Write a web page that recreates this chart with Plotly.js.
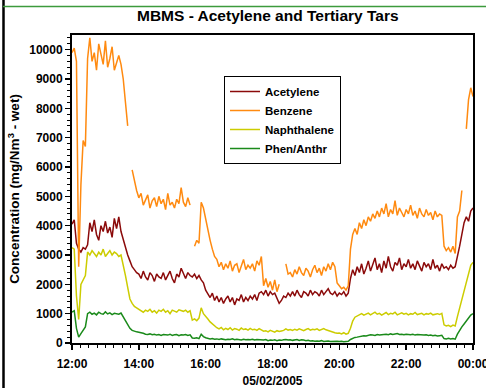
<!DOCTYPE html>
<html>
<head>
<meta charset="utf-8">
<script src="https://cdn.plot.ly/plotly-3.0.1.min.js"></script>
<style>
  html, body { margin: 0; padding: 0; background: #fff; }
  #chart { width: 486px; height: 388px; }
</style>
</head>
<body>
<div id="chart"></div>
<script>
// ---- Data ----
const startDate = '2005-05-02';
const startHour = 12;          // first sample at 12:00
const stepMinutes = 4;         // sampling step of the arrays below

const seriesNames = ['Acetylene', 'Benzene', 'Naphthalene', 'Phen/Anthr'];

const acetylene = [
4050, 4200, 3400, 3200, 3100, 3250, 3200, 3350, 4100, 3800,
4200, 3700, 3500, 4000, 3800, 4150, 3750, 3950, 3600, 4250,
3900, 4300, 3800, 3500, 3300, 3000, 2800, 2600, 2500, 2400,
2350, 2200, 2450, 2250, 2150, 2400, 2300, 2100, 2350, 2250,
2200, 2400, 2150, 2300, 2450, 2200, 2050, 2350, 2250, 2550,
2350, 2200, 2400, 2300, 2250, 2350, 2200, 2300, 2150, 2050,
1800, 1650, 1550, 1700, 1450, 1600, 1400, 1550, 1350, 1500,
1600, 1400, 1550, 1300, 1500, 1450, 1650, 1400, 1550, 1450,
1600, 1500, 1650, 1450, 1700, 1750, 1650, 1800, 1600, 1750,
1650, 1700, 1500, 1350, 1450, 1600, 1550, 1700, 1600, 1750,
1600, 1800, 1650, 1550, 1750, 1700, 1600, 1800, 1650, 1750,
1700, 1600, 1800, 1650, 1750, 1850, 1700, 1650, 1750, 1600,
1700, 1650, 1750, 1600, 1700, 2200, 2500, 2300, 2600, 2400,
2700, 2350, 2550, 2800, 2450, 2650, 2900, 2500, 2700, 2400,
2800, 2550, 2950, 2600, 2450, 2750, 2650, 2900, 2500, 2700,
2600, 2850, 2550, 2700, 2500, 2800, 2650, 2450, 2750, 2600,
2700, 2500, 2850, 2550, 2650, 2450, 2700, 2550, 2600, 2500,
2650, 2550, 2600, 2900, 3300, 3700, 4100, 4300, 4150, 4500, 4600
];

const benzene = [
9900, 10050, 9600, 2600, 5400, 6900, 6700, 9700, 10400, 9600,
9900, 9300, 10200, 9800, 9500, 10300, 9400, 9700, 10100, 9300,
9600, 9800, 9500, 9000, 8200, 7400, null, 5900, 5500, 5200,
4950, 5100, 4700, 4900, 5050, 4600, 4850, 4950, 4650, 5000,
4750, 4900, 4550, 5100, 4700, 4800, 4600, 4900, 4750, 5300,
4800, 4650, 4950, 4700, null, 3300, 3500, 3400, 4800, 4600,
4200, 3800, 3500, 3200, 2950, 2850, 2600, 2750, 2500, 2700,
2550, 2800, 2450, 2650, 2700, 2400, 2600, 2850, 2500, 2650,
2550, 2700, 2450, 2800, 2650, 2950, 1950, 2200, 1900, 2100,
1800, 2150, 1750, 2000, null, null, 2700, 2350, 2400, 2250,
2500, 2350, 2600, 2400, 2300, 2550, 2450, 2250, 2500, 2650,
2400, 2550, 2300, 2600, 2450, 2700, 2500, 2750, 2600, 2050,
1950, 1850, 1900, 1800, 1950, 3200, 3700, 3900, 3700, 4100,
3900, 4200, 4000, 4300, 4150, 4400, 4250, 4500, 4300, 4600,
4400, 4750, 4300, 4550, 4400, 4850, 4350, 4600, 4450, 4300,
4550, 4400, 4700, 4350, 4500, 4250, 4600, 4400, 4300, 4550,
4350, 4450, 4200, 4500, 4300, 4400, 4350, 3300, 3150, 3250,
3100, 3300, 3050, 4300, 4500, 5200, null, 7300, 8300, 8700, 8400
];

const naphthalene = [
3250, 3200, 1600, 800, 2000, 2150, 2300, 3100, 3000, 3150,
3050, 2950, 3100, 3000, 3200, 2950, 3050, 3150, 3000, 3100,
3050, 2950, 3000, 2700, 2300, 1900, 1500, 1350, 1250, 1200,
1150, 1100, 1050, 1120, 1080, 1150, 1050, 1100, 1020, 1120,
1080, 1150, 1050, 1100, 1000, 1120, 1080, 1050, 1130, 1100,
1080, 1120, 1050, 1100, 780, 820, 760, 850, 1200, 1000,
920, 820, 720, 650, 580, 520, 480, 530, 450, 500,
460, 520, 440, 490, 470, 430, 510, 460, 480, 440,
500, 450, 470, 430, 490, 450, 400, 420, 380, 430,
400, 370, 420, 390, 410, 430, 480, 440, 460, 430,
470, 440, 480, 450, 420, 460, 490, 440, 470, 450,
480, 430, 460, 490, 450, 420, 400, 380, 350, 330,
340, 310, 350, 300, 330, 500, 750, 880, 920, 950,
1000, 950, 980, 1020, 960, 1000, 1050, 980, 1010, 950,
1000, 1040, 970, 1010, 990, 1050, 960, 1000, 1030, 980,
1010, 960, 1000, 980, 1040, 970, 990, 1010, 960, 1000,
980, 1020, 960, 990, 1000, 970, 1010, 620, 580, 600,
560, 610, 580, 900, 1200, 1500, 1800, 2100, 2400, 2650, 2750
];

const phenAnthr = [
1050, 1100, 500, 200, 320, 450, 550, 1000, 1050, 980,
1020, 960, 1050, 1000, 980, 1060, 990, 1030, 970, 1010,
1000, 980, 1020, 900, 760, 620, 500, 430, 400, 380,
370, 360, 330, 300, 290, 310, 280, 300, 270, 290,
260, 290, 280, 270, 300, 260, 280, 290, 250, 280,
270, 290, 260, 280, 170, 160, 180, 150, 300, 220,
180, 160, 140, 150, 130, 140, 120, 140, 130, 110,
130, 120, 140, 110, 130, 120, 100, 130, 110, 120,
110, 130, 100, 120, 110, 90, 100, 120, 80, 100,
90, 110, 80, 100, 90, 110, 120, 100, 110, 90,
100, 120, 90, 110, 100, 80, 90, 70, 80, 60,
70, 60, 80, 50, 60, 70, 50, 60, 50, 60,
50, 60, 40, 50, 60, 120, 160, 190, 200, 220,
230, 250, 240, 260, 280, 270, 260, 290, 270, 280,
290, 300, 280, 310, 290, 300, 320, 290, 300, 280,
300, 290, 280, 300, 270, 290, 280, 260, 270, 280,
260, 270, 250, 260, 240, 250, 260, 150, 140, 160,
140, 150, 130, 300, 450, 550, 650, 750, 850, 950, 1000
];

const xTickLabels = ['12:00', '14:00', '16:00', '18:00', '20:00', '22:00', '00:00'];
const xTickValues = ['2005-05-02 12:00', '2005-05-02 14:00', '2005-05-02 16:00',
  '2005-05-02 18:00', '2005-05-02 20:00', '2005-05-02 22:00', '2005-05-03 00:00'];

// ---- time stamps for the samples ----
function pad(n) { return (n < 10 ? '0' : '') + n; }
function stamp(i) {
  const total = startHour * 60 + i * stepMinutes;
  const dayOffset = Math.floor(total / 1440);
  const rem = total % 1440;
  const day = dayOffset ? '2005-05-03' : startDate;
  return day + ' ' + pad(Math.floor(rem / 60)) + ':' + pad(rem % 60);
}
const times = acetylene.map((_, i) => stamp(i));

const colors = ['#8B0A0A', '#FF8A10', '#CCCC00', '#1A8A1A'];
const values = [acetylene, benzene, naphthalene, phenAnthr];

const traces = values.map((v, k) => ({
  type: 'scatter', mode: 'lines', name: seriesNames[k],
  x: times, y: v, connectgaps: false,
  line: { color: colors[k], width: 1.5 }
}));

const fontFam = '"Liberation Sans", Arial, Helvetica, sans-serif';
const bold = { family: fontFam, size: 12, color: '#000', weight: 'bold' };

// paper coordinates of the slide frame lines
const L = 72, R = 473, T = 35, B = 343;
const px = x => (x - L) / (R - L);
const py = y => (B - y) / (B - T);

const layout = {
  width: 486, height: 388,
  margin: { l: L, r: 486 - R, t: T, b: 388 - B, pad: 0 },
  paper_bgcolor: '#fff', plot_bgcolor: '#fff',
  showlegend: true,
  title: {
    text: 'MBMS - Acetylene and Tertiary Tars',
    font: { family: fontFam, size: 15.5, color: '#000', weight: 'bold' },
    xref: 'container', x: 0.551, xanchor: 'center',
    yref: 'container', y: 1 - 16 / 388, yanchor: 'middle'
  },
  xaxis: {
    type: 'date',
    range: ['2005-05-02 12:00', '2005-05-03 00:00'],
    tickmode: 'array', tickvals: xTickValues, ticktext: xTickLabels,
    ticks: 'outside', ticklen: 5, tickwidth: 1.5, tickcolor: '#000',
    minor: { dtick: 15 * 60 * 1000, tick0: '2005-05-02 12:00', ticks: 'outside', ticklen: 3, tickcolor: '#000', tickwidth: 1 },
    tickfont: bold,
    ticklabelstandoff: 4,
    ticklabeloverflow: 'allow',
    showgrid: false, zeroline: false,
    showline: true, linecolor: '#000', linewidth: 2, mirror: true,
    title: { text: '05/02/2005', font: bold, standoff: 6 }
  },
  yaxis: {
    range: [0, 10500],
    tickmode: 'linear', tick0: 0, dtick: 1000,
    tickformat: 'd',
    ticks: 'outside', ticklen: 5, tickwidth: 1.5, tickcolor: '#000',
    minor: { dtick: 200, ticks: 'outside', ticklen: 3, tickcolor: '#000', tickwidth: 1 },
    tickfont: bold,
    showgrid: false, zeroline: false,
    showline: true, linecolor: '#000', linewidth: 2, mirror: true,
    title: { text: 'Concentration (mg/Nm<sup>3</sup> - wet)', font: { family: fontFam, size: 13.5, color: '#000', weight: 'bold' }, standoff: 6 }
  },
  legend: {
    x: px(224), y: py(76), xanchor: 'left', yanchor: 'top',
    bgcolor: '#fff', bordercolor: '#000', borderwidth: 1,
    font: { family: fontFam, size: 11.5, color: '#000', weight: 'bold' },
    tracegroupgap: 0
  },
  shapes: [
    { type: 'line', xref: 'paper', yref: 'paper', x0: px(3.5), x1: px(3.5), y0: py(0), y1: py(388),
      line: { color: '#000', width: 2.5 } },
    { type: 'line', xref: 'paper', yref: 'paper', x0: px(3), x1: px(486), y0: py(6.5), y1: py(6.5),
      line: { color: '#3C9A3C', width: 1.5 } }
  ]
};

Plotly.newPlot('chart', traces, layout, { displayModeBar: false, staticPlot: true });
</script>
</body>
</html>
